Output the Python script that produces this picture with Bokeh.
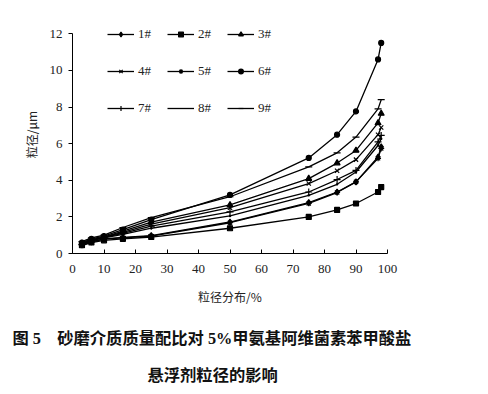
from bokeh.plotting import figure
from bokeh.models import Range1d, FixedTicker, Legend, LegendItem, Title
from bokeh.embed import file_html
from bokeh.resources import INLINE

# particle size distribution percentiles (%)
x_pct = [3, 6, 10, 16, 25, 50, 75, 84, 90, 97, 98]

s1 = [0.50, 0.65, 0.80, 0.88, 0.98, 1.72, 2.78, 3.36, 3.91, 5.27, 5.82]
s2 = [0.45, 0.60, 0.72, 0.80, 0.90, 1.38, 2.00, 2.38, 2.73, 3.36, 3.63]
s3 = [0.55, 0.75, 0.90, 1.22, 1.72, 2.65, 4.09, 4.94, 5.63, 7.13, 7.65]
s4 = [0.55, 0.75, 0.90, 1.15, 1.60, 2.50, 3.82, 4.52, 5.13, 6.49, 6.88]
s5 = [0.45, 0.62, 0.78, 0.85, 0.95, 1.68, 2.74, 3.33, 3.91, 5.20, 5.74]
s6 = [0.60, 0.80, 0.95, 1.30, 1.85, 3.20, 5.22, 6.49, 7.76, 10.60, 11.50]
s7 = [0.50, 0.70, 0.88, 1.10, 1.50, 2.27, 3.36, 4.04, 4.54, 6.10, 6.45]
s8 = [0.50, 0.70, 0.85, 1.05, 1.38, 2.05, 3.18, 3.78, 4.45, 5.90, 6.27]
s9 = [0.65, 0.85, 1.00, 1.42, 1.96, 3.10, 4.73, 5.50, 6.36, 7.90, 8.40]

series_names = ["1#", "2#", "3#", "4#", "5#", "6#", "7#", "8#", "9#"]
series_values = [s1, s2, s3, s4, s5, s6, s7, s8, s9]
markers = ["diamond", "square", "triangle", "x", "asterisk", "circle", "cross", "dot", "dash"]
marker_sizes = [6, 5, 6, 6, 6, 5, 7, 10, 7]

x_ticks = [0, 10, 20, 30, 40, 50, 60, 70, 80, 90, 100]
y_ticks = [0, 2, 4, 6, 8, 10, 12]

x_title = "粒径分布/%"
y_title = "粒径/μm"
caption1 = "图 5\u3000砂磨介质质量配比对 5%甲氨基阿维菌素苯甲酸盐"
caption2 = "悬浮剂粒径的影响"

p = figure(width=480, height=386, output_backend="svg", toolbar_location=None,
           x_range=Range1d(0, 100), y_range=Range1d(0, 13),
           min_border_left=72, min_border_right=93, min_border_top=15, min_border_bottom=133)
p.outline_line_color = None
p.xgrid.visible = False
p.ygrid.visible = False
p.background_fill_color = "white"

serif = "'Liberation Serif', 'Times New Roman', serif"

p.xaxis.ticker = FixedTicker(ticks=x_ticks)
p.yaxis.ticker = FixedTicker(ticks=y_ticks)
p.yaxis.bounds = (0, 12)
for ax in (p.xaxis, p.yaxis):
    ax.minor_tick_line_color = None
    ax.axis_line_color = "black"
    ax.major_tick_line_color = "black"
    ax.major_label_text_font = serif
    ax.major_label_text_font_size = "13px"
    ax.major_label_text_color = "#222222"
    ax.axis_label_text_font = "Noto Sans CJK SC"
    ax.axis_label_text_font_size = "12px"
    ax.axis_label_text_font_style = "normal"
    ax.axis_label_text_color = "#222222"
p.xaxis.major_tick_in = 4
p.xaxis.major_tick_out = 0
p.yaxis.major_tick_in = 0
p.yaxis.major_tick_out = 4
p.xaxis.major_label_standoff = 11
p.yaxis.major_label_standoff = 6
p.xaxis.axis_label = x_title
p.yaxis.axis_label = y_title
p.xaxis.axis_label_standoff = 12
p.yaxis.axis_label_standoff = 7

renderers = {}
for name, vals, mk, ms in zip(series_names, series_values, markers, marker_sizes):
    r_line = p.line(x_pct, vals, line_color="black", line_width=1.3)
    r_pts = p.scatter(x_pct, vals, marker=mk, size=ms, line_color="black",
                      fill_color="black", line_width=1.2)
    renderers[name] = [r_line, r_pts]

# legend fills column by column: order so rows read 1# 2# 3# / 4# 5# 6# / 7# 8# 9#
legend_order = ["1#", "4#", "7#", "2#", "5#", "8#", "3#", "6#", "9#"]
items = [LegendItem(label=n, renderers=renderers[n]) for n in legend_order]

legend = Legend(items=items, ncols=3, location=(35, 131),
                glyph_width=27, glyph_height=12, label_height=28,
                spacing=9, label_standoff=4, padding=0, margin=0,
                label_text_font=serif, label_text_font_size="13px",
                label_text_color="#222222",
                background_fill_alpha=0, border_line_color=None)
p.add_layout(legend, "center")

cap_font = "'Liberation Serif', 'Noto Sans CJK SC'"
t1 = Title(text=caption1, align="left", offset=-60, standoff=39,
           text_font=cap_font, text_font_size="16.3px", text_font_style="bold",
           text_color="#111111")
t2 = Title(text=caption2, align="left", offset=75, standoff=-8,
           text_font=cap_font, text_font_size="16.3px", text_font_style="bold",
           text_color="#111111")
p.add_layout(t1, "below")
p.add_layout(t2, "below")

open("out.html", "w").write(file_html(p, INLINE))
